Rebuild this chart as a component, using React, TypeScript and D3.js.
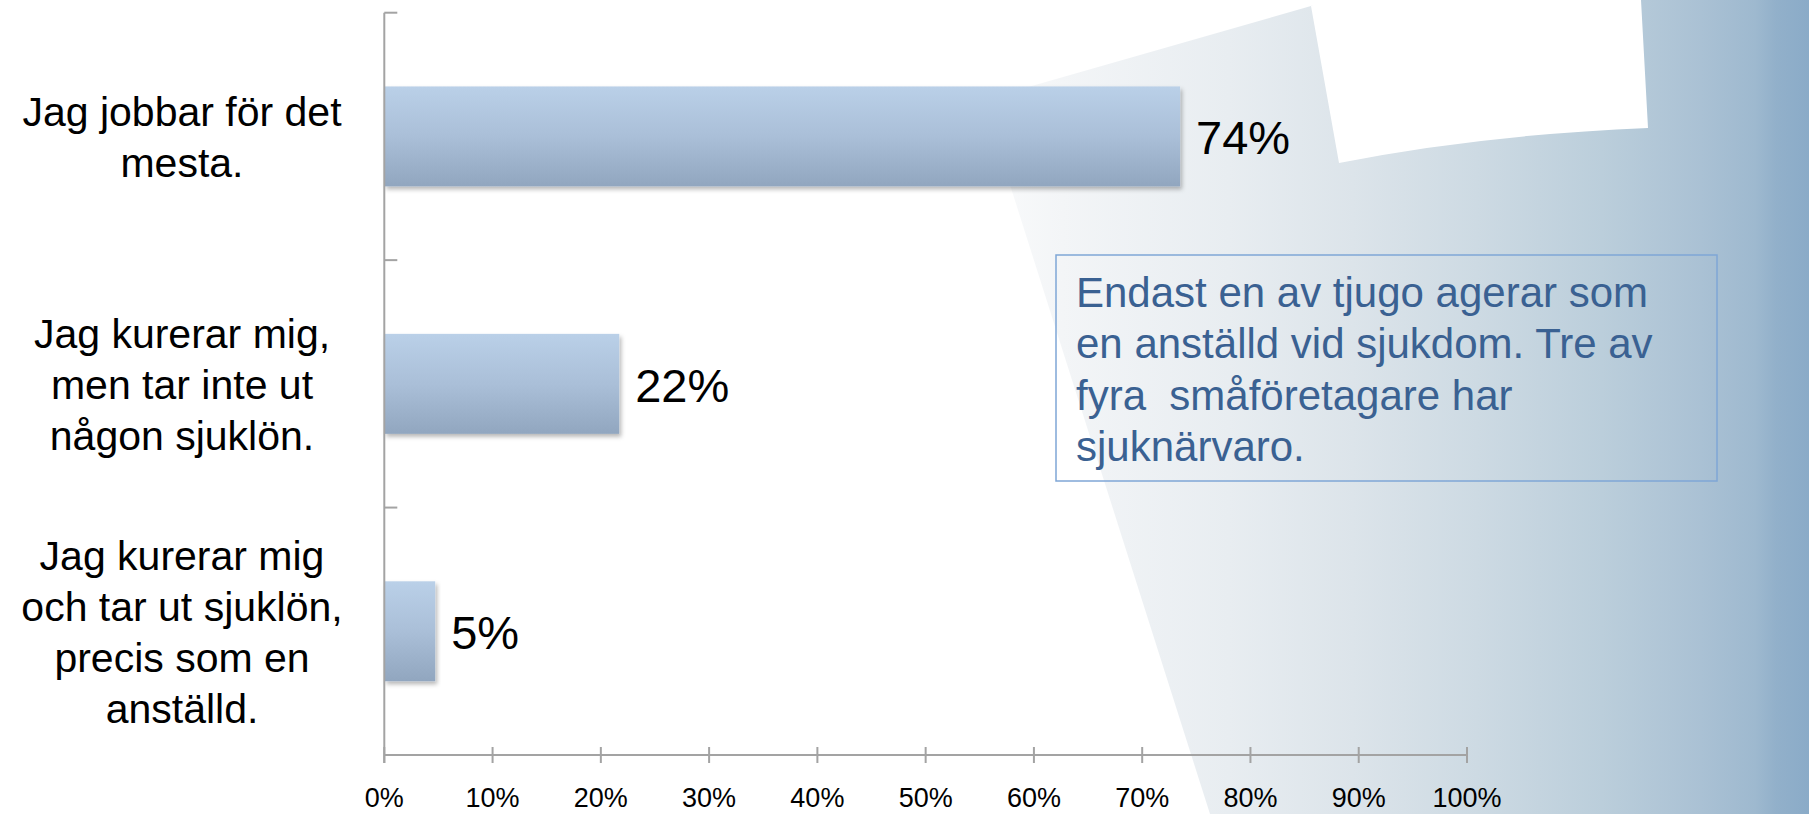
import React from "react";
import * as d3 from "d3";

const categories = [
  ["Jag jobbar för det", "mesta."],
  ["Jag kurerar mig,", "men tar inte ut", "någon sjuklön."],
  ["Jag kurerar mig", "och tar ut sjuklön,", "precis som en", "anställd."],
];
const values = [73.5, 21.7, 4.7];
const valueLabels = ["74%", "22%", "5%"];
const xTicks = [0, 10, 20, 30, 40, 50, 60, 70, 80, 90, 100];
const noteLines = [
  "Endast en av tjugo agerar som",
  "en anställd vid sjukdom. Tre av",
  "fyra  småföretagare har",
  "sjuknärvaro.",
];

const W = 1809;
const H = 814;

export default function App() {
  const x = d3.scaleLinear().domain([0, 100]).range([384.3, 1467]);
  const ids = categories.map((_, i) => String(i));
  const y = d3
    .scaleBand<string>()
    .domain(ids)
    .range([12.7, 755])
    .paddingInner(0.596)
    .paddingOuter(0.298);
  const step = y.step();
  const boundaries = d3.range(ids.length + 1).map((i) => 12.7 + i * step);
  const axisColor = "#A3A3A3";
  const font = "'Liberation Sans', Arial, Helvetica, sans-serif";

  const bgPath = d3.path();
  bgPath.moveTo(983, 100);
  bgPath.lineTo(1311, 6);
  bgPath.lineTo(1330, 0);
  bgPath.lineTo(W, 0);
  bgPath.lineTo(W, H);
  bgPath.lineTo(1210, H);
  bgPath.closePath();

  const paper = d3.path();
  paper.moveTo(1311, 6);
  paper.lineTo(1322, 0);
  paper.lineTo(1641, 0);
  paper.lineTo(1648, 128);
  paper.quadraticCurveTo(1480, 135, 1339, 163);
  paper.closePath();

  const bgStops: [number, string][] = [
    [0, "#FAFBFC"],
    [0.1, "#F3F5F7"],
    [0.3, "#E8EDF1"],
    [0.45, "#DCE4EA"],
    [0.6, "#CDDAE3"],
    [0.75, "#BBCEDB"],
    [0.87, "#AAC1D4"],
    [0.935, "#9EB9CF"],
    [0.96, "#92B0CA"],
    [1, "#8AABC8"],
  ];

  return (
    <svg
      width={W}
      height={H}
      viewBox={`0 0 ${W} ${H}`}
      style={{ position: "fixed", left: 0, top: 0, display: "block", background: "#fff" }}
    >
      <defs>
        <linearGradient id="bgGrad" gradientUnits="userSpaceOnUse" x1={980} y1={0} x2={W} y2={0}>
          {bgStops.map(([o, c], i) => (
            <stop key={i} offset={o} stopColor={c} />
          ))}
        </linearGradient>
        <linearGradient id="barGrad" x1="0" y1="0" x2="0" y2="1">
          <stop offset="0" stopColor="#BAD0E8" />
          <stop offset="0.5" stopColor="#AABFD8" />
          <stop offset="1" stopColor="#91A6BF" />
        </linearGradient>
        <filter id="shadow" x="-5%" y="-10%" width="115%" height="130%">
          <feDropShadow dx="2" dy="3" stdDeviation="2" floodColor="#000" floodOpacity="0.28" />
        </filter>
      </defs>

      <rect x={0} y={0} width={W} height={H} fill="#fff" />
      <path d={bgPath.toString()} fill="url(#bgGrad)" />
      <path d={paper.toString()} fill="#FFFFFF" />

      {/* bars */}
      {values.map((v, i) => (
        <rect
          key={i}
          x={x(0)}
          y={y(ids[i])!}
          width={x(v) - x(0)}
          height={y.bandwidth()}
          fill="url(#barGrad)"
          filter="url(#shadow)"
        />
      ))}

      {/* axes */}
      <line x1={x(0)} x2={x(0)} y1={boundaries[0]} y2={763} stroke={axisColor} strokeWidth={2} />
      {boundaries.map((b, i) => (
        <line key={i} x1={x(0)} x2={x(0) + 13} y1={b} y2={b} stroke={axisColor} strokeWidth={2} />
      ))}
      <line x1={x(0)} x2={x(100)} y1={755} y2={755} stroke={axisColor} strokeWidth={2} />
      {xTicks.map((t) => (
        <g key={t}>
          <line x1={x(t)} x2={x(t)} y1={747} y2={763} stroke={axisColor} strokeWidth={2} />
          <text x={x(t)} y={807} textAnchor="middle" fontFamily={font} fontSize={27} fill="#000">
            {t + "%"}
          </text>
        </g>
      ))}

      {/* value labels */}
      {values.map((v, i) => (
        <text
          key={i}
          x={x(v) + 16}
          y={y(ids[i])! + y.bandwidth() / 2 + 18}
          fontFamily={font}
          fontSize={47}
          fill="#000"
        >
          {valueLabels[i]}
        </text>
      ))}

      {/* category labels */}
      {categories.map((lines, i) => {
        const cy = y(ids[i])! + y.bandwidth() / 2;
        const lh = 51;
        const first = cy + 15 - ((lines.length - 1) * lh) / 2;
        return (
          <text key={i} textAnchor="middle" fontFamily={font} fontSize={41} fill="#000">
            {lines.map((l, j) => (
              <tspan key={j} x={182} y={first + j * lh}>
                {l}
              </tspan>
            ))}
          </text>
        );
      })}

      {/* note box */}
      <rect x={1056} y={255} width={661} height={226} fill="none" stroke="#7FA6D6" strokeWidth={1.5} />
      <text fontFamily={font} fontSize={42} fill="#3A6192" style={{ whiteSpace: "pre" }}>
        {noteLines.map((l, j) => (
          <tspan key={j} x={1076} y={306.5 + j * 51.5}>
            {l}
          </tspan>
        ))}
      </text>
    </svg>
  );
}
